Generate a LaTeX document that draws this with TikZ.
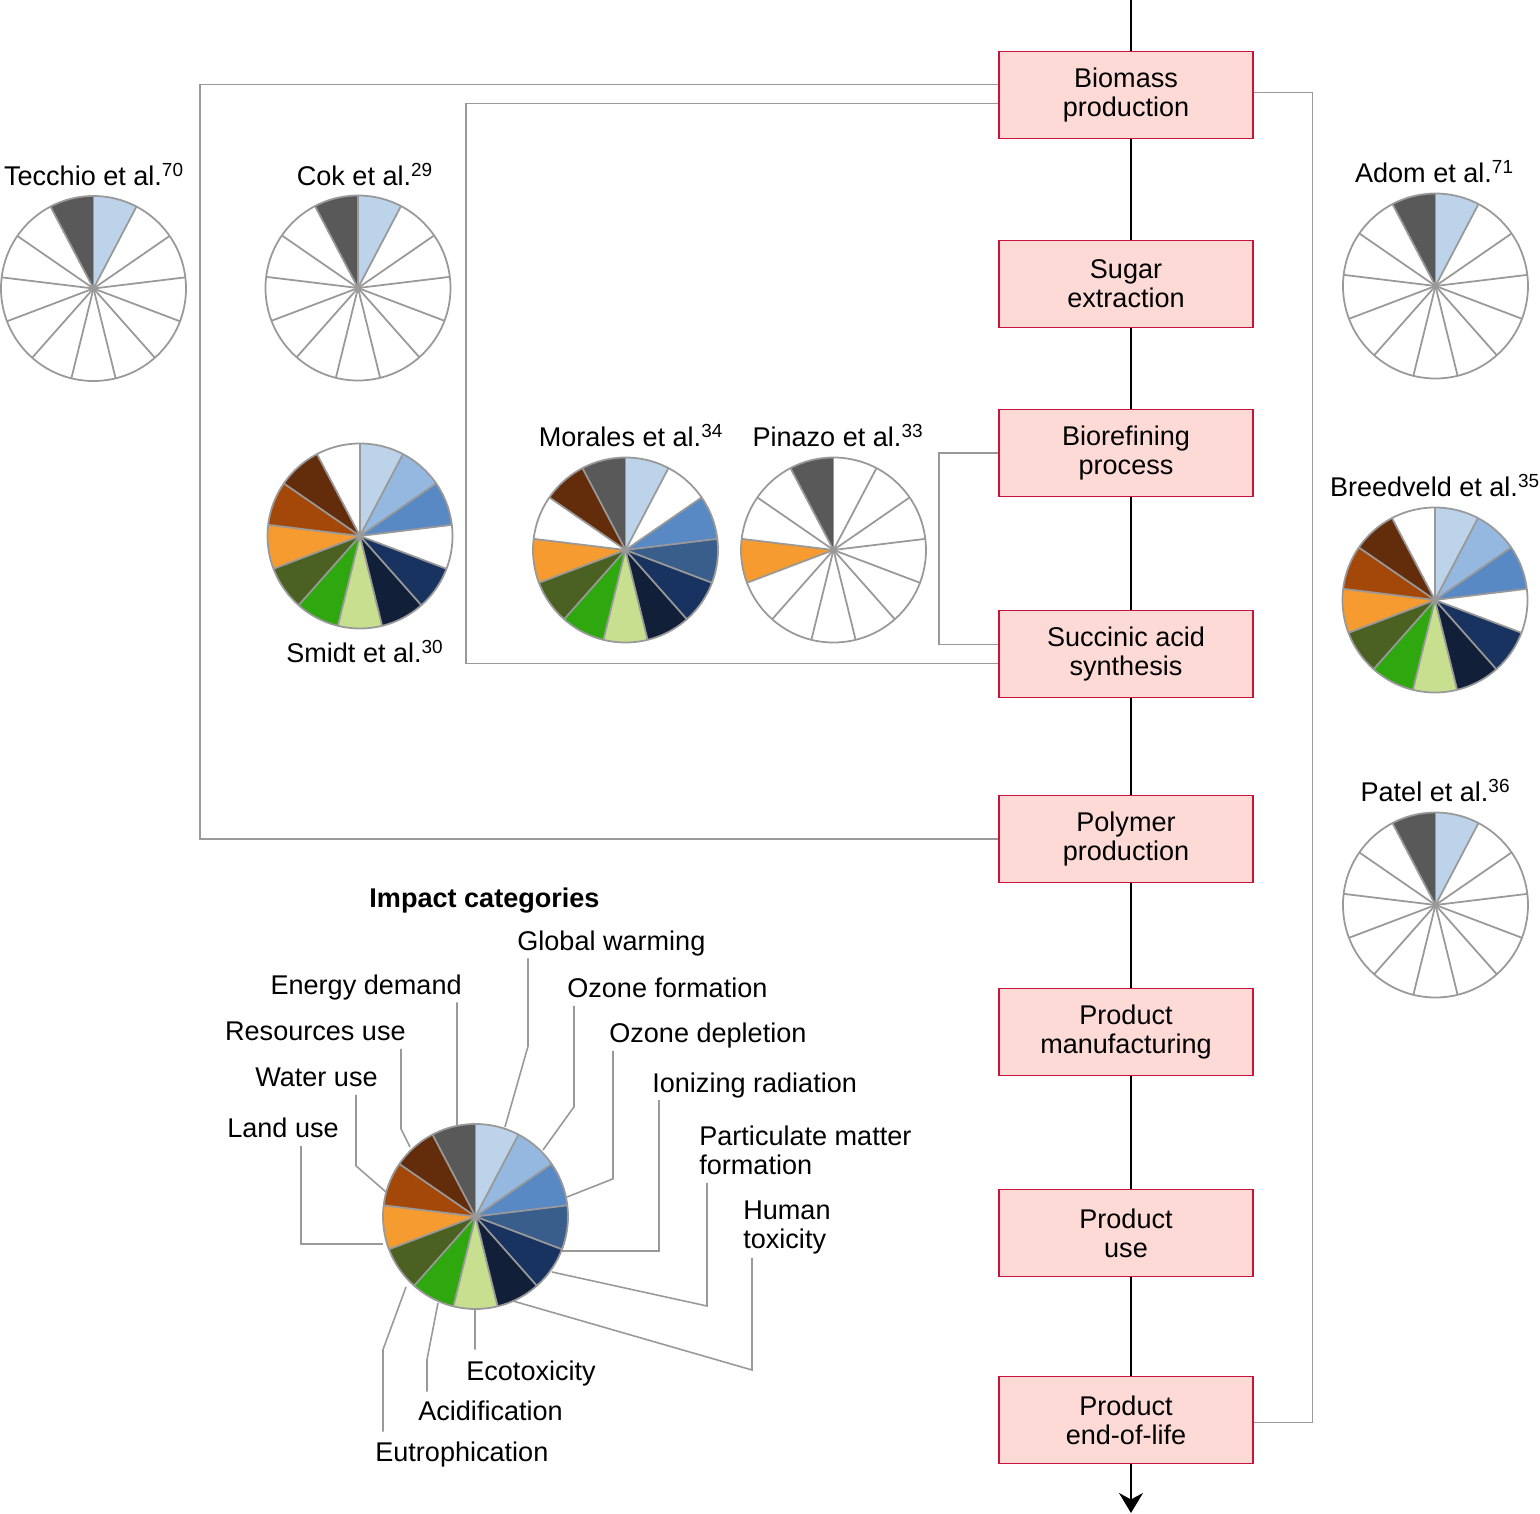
\documentclass[tikz,border=0pt]{standalone}
\usepackage{fontspec}
\setmainfont{Liberation Sans}
\usetikzlibrary{arrows.meta}

\definecolor{gwarm}{HTML}{BCD3E9}
\definecolor{ozform}{HTML}{95B8E0}
\definecolor{ozdep}{HTML}{5889C4}
\definecolor{ionrad}{HTML}{3A5E8C}
\definecolor{partm}{HTML}{18335F}
\definecolor{humtox}{HTML}{111F39}
\definecolor{ecotox}{HTML}{C7DF8E}
\definecolor{acid}{HTML}{2EA80E}
\definecolor{eutro}{HTML}{4B6122}
\definecolor{landu}{HTML}{F59B30}
\definecolor{wateru}{HTML}{A4480A}
\definecolor{resu}{HTML}{632D0C}
\definecolor{edem}{HTML}{595959}
\definecolor{stagefill}{HTML}{FDDAD6}
\definecolor{stageline}{HTML}{C8143C}
\definecolor{leadgray}{HTML}{999999}

% pie of 13 impact slices, clockwise from 12 o'clock
\newcommand{\piechart}[3]{%
  \foreach \c [count=\i from 0] in {#3}
    \fill[\c] (#1) -- ++({90-\i*360/13}:#2) arc[start angle={90-\i*360/13}, delta angle={-360/13}, radius=#2] -- cycle;
  \foreach \i in {0,...,12}
    \draw[wedge] (#1) -- ++({90-\i*360/13}:#2);
  \draw[wedge] (#1) circle (#2);
}

\begin{document}
\begin{tikzpicture}[scale=0.2]
    \tikzset{every node/.append style={inner sep=0pt, font=\fontsize{15.4}{16.5}\selectfont}}
    \tikzset{stage/.style={draw=stageline, fill=stagefill, line width=0.8pt, minimum width=5.08cm, minimum height=1.74cm, align=center}}
    \tikzset{flow/.style={black, line width=1.1pt}}
    \tikzset{bracket/.style={leadgray, line width=0.9pt}}
    \tikzset{wedge/.style={leadgray, line width=1pt, line join=round}}
    \tikzset{leader/.style={leadgray, line width=0.9pt}}
    \tikzset{cat/.style={text height=0.38cm, text depth=0.16cm}}
    \useasboundingbox (0,0) rectangle (154,-151.4);

    % life cycle stages
    \node [stage] (bio) at (112.6,-9.5) {Biomass\\production};
    \node [stage] (sugar) at (112.6,-28.4) {Sugar\\extraction};
    \node [stage] (refine) at (112.6,-45.3) {Biorefining\\process};
    \node [stage] (succ) at (112.6,-65.4) {Succinic acid\\synthesis};
    \node [stage] (poly) at (112.6,-83.9) {Polymer\\production};
    \node [stage] (manu) at (112.6,-103.2) {Product\\manufacturing};
    \node [stage] (use) at (112.6,-123.3) {Product\\use};
    \node [stage] (eol) at (112.6,-142.0) {Product\\end-of-life};
    \coordinate (src) at (113.1,0);
    \coordinate (snk) at (113.1,-151.3);
    \draw [flow] (src) -- ([xshift=0.5cm]bio.north);
    \foreach \a/\b in {bio/sugar,sugar/refine,refine/succ,succ/poly,poly/manu,manu/use,use/eol}
      \draw [flow] ([xshift=0.5cm]\a.south) -- ([xshift=0.5cm]\b.north);
    \draw [flow,-{Stealth[length=0.4cm,width=0.48cm]}] ([xshift=0.5cm]eol.south) -- (snk);

    % system boundaries
    \draw [bracket] ([yshift=1.05cm]bio.west) -- ++(-79.8,0) |- (poly.west);
    \draw [bracket] ([yshift=-0.85cm]bio.west) -- ++(-53.2,0) |- ([yshift=-0.95cm]succ.west);
    \draw [bracket] (refine.west) -- ++(-5.9,0) |- ([yshift=0.95cm]succ.west);
    \draw [bracket] ([yshift=0.25cm]bio.east) -- ++(5.9,0) |- ([yshift=-0.25cm]eol.east);

    % studies
    \coordinate (tecchio) at (9.35,-28.85);
    \coordinate (cok) at (35.8,-28.8);
    \coordinate (smidt) at (36.0,-53.6);
    \coordinate (morales) at (62.55,-55.0);
    \coordinate (pinazo) at (83.35,-55.0);
    \coordinate (adom) at (143.55,-28.6);
    \coordinate (breedveld) at (143.5,-60.0);
    \coordinate (patel) at (143.55,-90.5);
    \piechart{tecchio}{9.25}{gwarm,white,white,white,white,white,white,white,white,white,white,white,edem}
    \piechart{cok}{9.25}{gwarm,white,white,white,white,white,white,white,white,white,white,white,edem}
    \piechart{adom}{9.25}{gwarm,white,white,white,white,white,white,white,white,white,white,white,edem}
    \piechart{patel}{9.25}{gwarm,white,white,white,white,white,white,white,white,white,white,white,edem}
    \piechart{smidt}{9.25}{gwarm,ozform,ozdep,white,partm,humtox,ecotox,acid,eutro,landu,wateru,resu,white}
    \piechart{breedveld}{9.25}{gwarm,ozform,ozdep,white,partm,humtox,ecotox,acid,eutro,landu,wateru,resu,white}
    \piechart{morales}{9.25}{gwarm,white,ozdep,ionrad,partm,humtox,ecotox,acid,eutro,landu,white,resu,edem}
    \piechart{pinazo}{9.25}{white,white,white,white,white,white,white,white,white,landu,white,white,edem}
    \node [anchor=base] (tecchio-lbl) at (9.4,-18.55) {Tecchio et al.\textsuperscript{70}};
    \node [anchor=base] (cok-lbl) at (36.5,-18.55) {Cok et al.\textsuperscript{29}};
    \node [anchor=base] (smidt-lbl) at (36.5,-66.25) {Smidt et al.\textsuperscript{30}};
    \node [anchor=base] (morales-lbl) at (63.1,-44.65) {Morales et al.\textsuperscript{34}};
    \node [anchor=base] (pinazo-lbl) at (83.8,-44.65) {Pinazo et al.\textsuperscript{33}};
    \node [anchor=base] (adom-lbl) at (143.45,-18.25) {Adom et al.\textsuperscript{71}};
    \node [anchor=base] (breedveld-lbl) at (143.5,-49.65) {Breedveld et al.\textsuperscript{35}};
    \node [anchor=base] (patel-lbl) at (143.55,-80.15) {Patel et al.\textsuperscript{36}};

    % legend
    \node [anchor=base, font=\fontsize{15.4}{16.5}\selectfont\bfseries] (legend-title) at (48.45,-90.75) {Impact categories};
    \coordinate (legend) at (47.55,-121.65);
    \piechart{legend}{9.25}{gwarm,ozform,ozdep,ionrad,partm,humtox,ecotox,acid,eutro,landu,wateru,resu,edem}
    \node [cat, anchor=base west] (gw) at (51.7,-95.0) {Global warming};
    \node [cat, anchor=base east] (ed) at (46.2,-99.4) {Energy demand};
    \node [cat, anchor=base west] (of) at (56.7,-99.75) {Ozone formation};
    \node [cat, anchor=base east] (ru) at (40.6,-104.05) {Resources use};
    \node [cat, anchor=base west] (od) at (60.9,-104.25) {Ozone depletion};
    \node [cat, anchor=base east] (wu) at (37.8,-108.65) {Water use};
    \node [cat, anchor=base west] (ir) at (65.2,-109.2) {Ionizing radiation};
    \node [cat, anchor=base west] (lu) at (22.7,-113.75) {Land use};
    \node [anchor=north west, align=left] (pm) at (69.9,-112.55) {Particulate matter\\formation};
    \node [anchor=north west, align=left] (ht) at (74.3,-120.1) {Human\\toxicity};
    \node [cat, anchor=base west] (et) at (46.6,-138.0) {Ecotoxicity};
    \node [cat, anchor=base west] (ac) at (41.8,-142.0) {Acidification};
    \node [cat, anchor=base west] (eu) at (37.5,-146.1) {Eutrophication};
    \coordinate (gw-rim) at (50.5,-112.7);
    \coordinate (ed-rim) at (45.7,-112.5);
    \coordinate (of-rim) at (54.3,-115.0);
    \coordinate (ru-rim) at (41.0,-114.7);
    \coordinate (od-rim) at (56.7,-119.7);
    \coordinate (wu-rim) at (38.6,-119.2);
    \coordinate (ir-rim) at (56.2,-125.1);
    \coordinate (lu-rim) at (38.3,-124.4);
    \coordinate (pm-rim) at (55.2,-127.2);
    \coordinate (ht-rim) at (51.3,-130.1);
    \coordinate (et-rim) at (47.5,-131.0);
    \coordinate (ac-rim) at (43.8,-130.3);
    \coordinate (eu-rim) at (40.6,-128.7);
    \draw [leader] ([xshift=1.1cm]gw.south west) -- ++(0,-8.8) -- (gw-rim);
    \draw [leader] ([xshift=-0.5cm]ed.south east) -- (ed-rim);
    \draw [leader] ([xshift=0.7cm]of.south west) -- ++(0,-10.1) -- (of-rim);
    \draw [leader] ([xshift=-0.5cm]ru.south east) -- ++(0,-8) -- (ru-rim);
    \draw [leader] ([xshift=0.4cm]od.south west) -- ++(0,-12.8) -- (od-rim);
    \draw [leader] ([xshift=-2.2cm]wu.south east) -- ++(0,-7.1) -- (wu-rim);
    \draw [leader] ([xshift=0.7cm]ir.south west) |- (ir-rim);
    \draw [leader] ([xshift=7.4cm]lu.south west) |- (lu-rim);
    \draw [leader] ([xshift=0.8cm,yshift=-5.75cm]pm.north west) -- ++(0,-12.3) -- (pm-rim);
    \draw [leader] ([xshift=0.9cm,yshift=-5.7cm]ht.north west) -- ++(0,-11.2) -- (ht-rim);
    \draw [leader] ([xshift=0.9cm,yshift=1.1cm]et.north west) -- (et-rim);
    \draw [leader] ([xshift=0.9cm,yshift=0.9cm]ac.north west) -- ++(0,3.2) -- (ac-rim);
    \draw [leader] ([xshift=0.8cm,yshift=1.0cm]eu.north west) -- ++(0,8.2) -- (eu-rim);
\end{tikzpicture}
\end{document}
